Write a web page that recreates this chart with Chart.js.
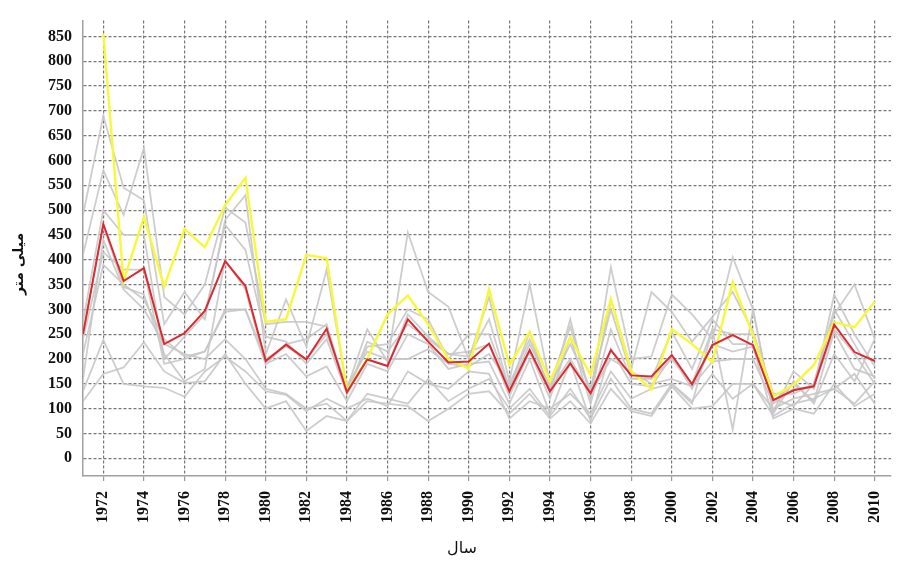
<!DOCTYPE html>
<html>
<head>
<meta charset="utf-8">
<script src="https://cdn.jsdelivr.net/npm/chart.js@4.4.0/dist/chart.umd.min.js"></script>
<style>
  body { margin: 0; background: #fff; }
  #wrap { width: 904px; height: 567px; }
</style>
</head>
<body>
<div id="wrap"><canvas id="myChart" width="904" height="567"></canvas></div>
<script>
// years 1971-2010
const years = [1971, 1972, 1973, 1974, 1975, 1976, 1977, 1978, 1979, 1980,
  1981, 1982, 1983, 1984, 1985, 1986, 1987, 1988, 1989, 1990,
  1991, 1992, 1993, 1994, 1995, 1996, 1997, 1998, 1999, 2000,
  2001, 2002, 2003, 2004, 2005, 2006, 2007, 2008, 2009, 2010];

const xTicks = [1972, 1974, 1976, 1978, 1980, 1982, 1984, 1986, 1988, 1990,
  1992, 1994, 1996, 1998, 2000, 2002, 2004, 2006, 2008, 2010];
const yTicks = [0, 50, 100, 150, 200, 250, 300, 350, 400, 450, 500, 550, 600, 650, 700, 750, 800, 850];

const xTitle = "سال";
const yTitle = "میلی متر";

// mean (red)
const meanRain = [250, 472, 357, 383, 230, 252, 297, 397, 347, 196, 229, 199, 261, 133, 199, 186, 280, 235, 193, 195,
  231, 135, 218, 135, 191, 131, 218, 167, 165, 208, 149, 228, 248, 228, 117, 137, 145, 269, 214, 196];

// yellow station
const yellowRain = [null, 855, 357, 486, 346, 462, 425, 510, 565, 275, 280, 410, 403, 135, 200, 290, 328, 270, 200, 181,
  340, 188, 254, 155, 244, 168, 321, 175, 139, 260, 230, 194, 355, 248, 125, 148, 188, 274, 264, 316];

// grey stations
const g1 = [490, 690, 545, 520, 270, 335, 280, 480, 530, 210, 320, 225, 380, 140, 260, 195, 455, 335, 305, 200,
  325, 155, 350, 150, 265, 130, 385, 200, 205, 330, 290, 240, 405, 300, 95, 175, 140, 330, 250, 185];
const g2 = [410, 580, 490, 625, 325, 290, 350, 505, 475, 270, 275, 275, 265, 135, 225, 230, 300, 280, 200, 250,
  250, 140, 255, 130, 280, 120, 320, 180, 335, 295, 235, 285, 335, 255, 130, 130, 150, 290, 350, 240];
const g3 = [275, 500, 450, 450, 200, 245, 290, 470, 420, 245, 235, 190, 240, 130, 200, 185, 290, 245, 210, 215,
  230, 125, 215, 120, 245, 110, 260, 160, 160, 255, 180, 280, 230, 230, 115, 150, 115, 255, 180, 165];
const g4 = [240, 415, 380, 380, 190, 200, 215, 300, 300, 190, 210, 165, 185, 115, 190, 175, 250, 230, 180, 190,
  195, 110, 200, 90, 195, 75, 220, 150, 145, 205, 140, 230, 215, 225, 80, 100, 90, 150, 105, 130];
const g5 = [210, 390, 350, 320, 240, 205, 215, 295, 300, 200, 225, 200, 250, 145, 215, 200, 200, 220, 190, 185,
  210, 150, 240, 140, 200, 130, 200, 175, 150, 160, 145, 195, 200, 200, 110, 140, 145, 260, 210, 150];
const g6 = [160, 440, 340, 300, 230, 210, 200, 240, 200, 140, 130, 100, 110, 75, 130, 120, 110, 160, 115, 140,
  160, 100, 140, 85, 140, 80, 160, 100, 90, 150, 115, 170, 120, 150, 85, 110, 120, 140, 170, 110];
const g7 = [135, 238, 150, 145, 142, 124, 175, 205, 175, 135, 128, 95, 120, 100, 120, 105, 175, 150, 140, 175,
  170, 80, 115, 100, 130, 90, 175, 120, 140, 150, 110, 260, 58, 300, 90, 155, 110, 210, 155, 240];
const g8 = [115, 170, 183, 234, 175, 152, 155, 210, 150, 100, 115, 55, 85, 75, 115, 110, 105, 75, 100, 130,
  135, 90, 130, 80, 115, 70, 140, 95, 85, 145, 100, 105, 150, 150, 100, 120, 130, 140, 110, 155];
const g9 = [250, 470, 345, 330, 210, 155, 180, 400, 340, 190, 230, 240, 270, 130, 235, 215, 270, 240, 210, 205,
  280, 140, 230, 145, 230, 140, 300, 170, 160, 200, 150, 260, 250, 250, 120, 105, 150, 300, 230, 160];

const greyStations = [g1, g2, g3, g4, g5, g6, g7, g8, g9];

function points(series) {
  return years.map((yr, i) => ({ x: yr, y: series[i] }));
}

const datasets = [
  { data: points(meanRain), borderColor: '#dc2a30', borderWidth: 2 },
  { data: points(yellowRain), borderColor: '#f8f83a', borderWidth: 2.4 }
];
greyStations.forEach(s => {
  datasets.push({ data: points(s), borderColor: 'rgba(200,200,200,0.9)', borderWidth: 1.8 });
});

const axisTitles = {
  id: 'axisTitles',
  afterDraw(chart) {
    const ctx = chart.ctx;
    ctx.save();
    ctx.fillStyle = '#111';
    ctx.textAlign = 'center';
    ctx.textBaseline = 'middle';
    ctx.font = '16px "DejaVu Sans"';
    ctx.fillText(xTitle, 462, 549);
    ctx.translate(19, 264);
    ctx.rotate(-Math.PI / 2);
    ctx.font = 'bold 14px "DejaVu Sans"';
    ctx.fillText(yTitle, 0, 0);
    ctx.restore();
  }
};

const ctx = document.getElementById('myChart').getContext('2d');
const myChart = new Chart(ctx, {
  type: 'line',
  data: { datasets: datasets },
  plugins: [axisTitles],
  options: {
    responsive: false,
    animation: false,
    layout: { padding: { top: 14, right: 0, bottom: 0, left: 0 } },
    elements: { point: { radius: 0 }, line: { tension: 0 } },
    plugins: { legend: { display: false }, tooltip: { enabled: false } },
    scales: {
      x: {
        type: 'linear',
        min: 1971,
        max: 2010.8,
        afterBuildTicks: scale => { scale.ticks = xTicks.map(v => ({ value: v })); },
        afterFit: scale => { scale.height = 91; },
        ticks: {
          autoSkip: false,
          minRotation: 90,
          maxRotation: 90,
          padding: 10,
          color: '#111',
          font: { family: '"Liberation Serif"', size: 16, weight: 'bold' },
          callback: v => String(v)
        },
        grid: { color: '#777', lineWidth: 1.2, tickLength: 5, tickColor: '#999', tickBorderDash: [] },
        border: { display: true, color: '#a0a0a0', width: 1.5, dash: [3, 2] }
      },
      y: {
        min: -35.7,
        max: 881.8,
        afterBuildTicks: scale => { scale.ticks = yTicks.map(v => ({ value: v })); },
        afterFit: scale => { scale.width = 83; },
        ticks: {
          padding: 11,
          color: '#111',
          font: { family: '"Liberation Serif"', size: 16, weight: 'bold' }
        },
        grid: { color: '#777', lineWidth: 1.2, drawTicks: false },
        border: { display: true, color: '#a0a0a0', width: 1.5, dash: [3, 2] }
      }
    }
  }
});
</script>
</body>
</html>
